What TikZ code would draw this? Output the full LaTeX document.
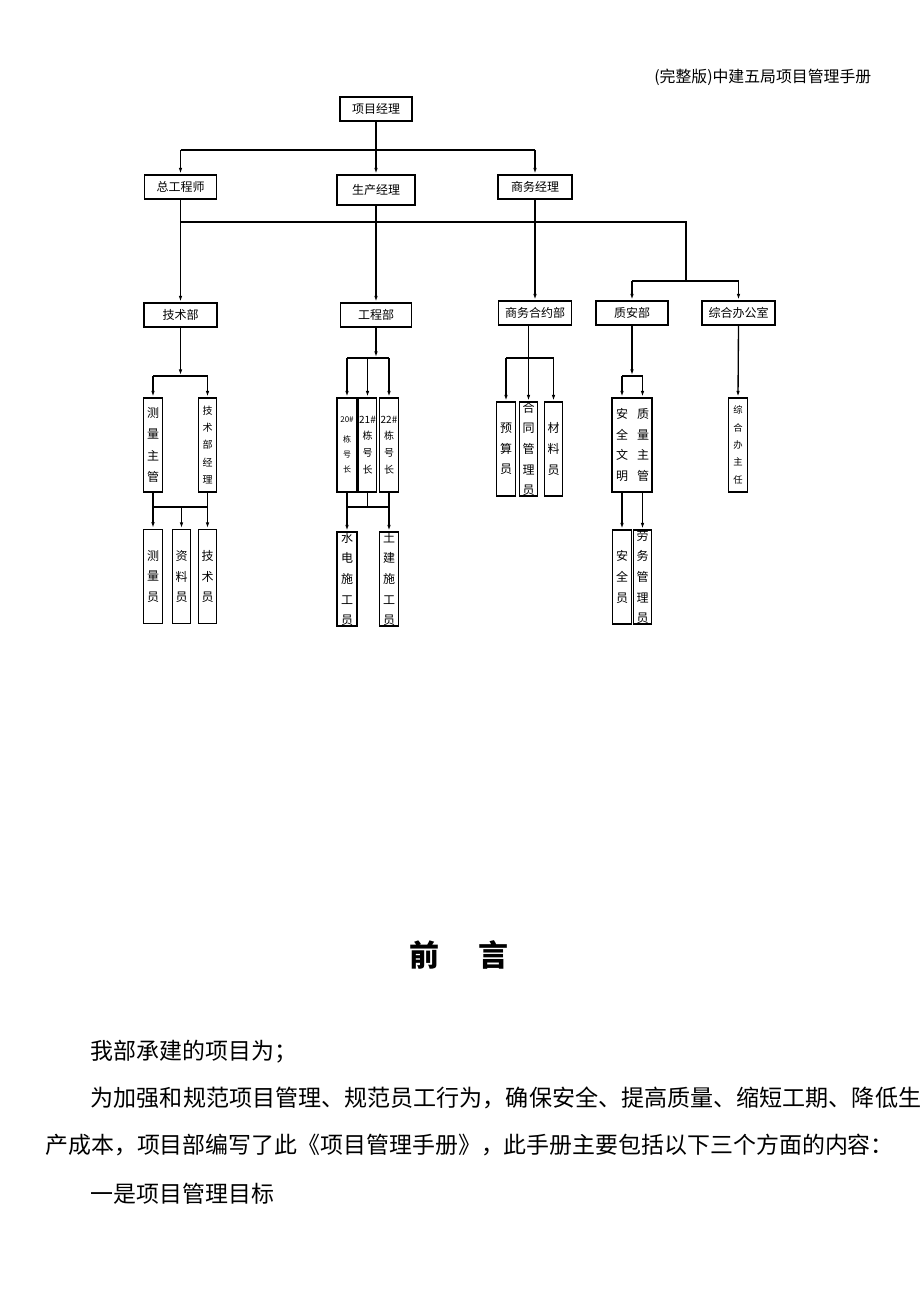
\documentclass[tikz,border=0pt]{standalone}
\usepackage{fontspec}
\setmainfont{Noto Sans CJK SC}
\usetikzlibrary{arrows.meta}

\tikzset{
  orgbox/.style={draw, line width=0.8pt, minimum width=54pt, minimum height=18pt, inner sep=0pt, font=\fontsize{9}{9}\selectfont},
  colbox/.style={draw, line width=0.8pt, minimum width=14pt, minimum height=70.5pt, inner sep=0pt},
  vtext/.style={align=center, inner sep=0pt, font=\fontsize{9}{15.5}\selectfont},
  conn/.style={line width=1pt},
  conarr/.style={conn, -{Latex[length=5pt,width=2.6pt]}},
}

\begin{document}
\begin{tikzpicture}[x=0.75pt,y=0.75pt,yscale=-1,xscale=1]
\useasboundingbox (0,0) rectangle (920,1302);

% header
\node[anchor=east, font=\fontsize{11.9}{11.9}\selectfont] (head) at (876,77) {(完整版)中建五局项目管理手册};

% bars
\coordinate (bar1) at (0,150);
\coordinate (bar2) at (0,222);
\coordinate (bar4) at (0,358);
\coordinate (bar3) at (0,376);
\coordinate (bar5) at (0,507);
\coordinate (bar6) at (686,281);

% top level
\node[orgbox] (pm) at (376,109) {项目经理};
\node[orgbox] (zgcs) at (180.5,187) {总工程师};
\node[orgbox, minimum width=58.5pt, minimum height=22.5pt] (scjl) at (376,190) {生产经理};
\node[orgbox, minimum width=55.5pt] (swjl) at (535,187) {商务经理};

% departments
\node[orgbox, minimum width=54.75pt] (jsb) at (180.5,315) {技术部};
\node[orgbox, minimum width=53.25pt] (gcb) at (376,315) {工程部};
\node[orgbox, minimum width=54.75pt] (swhyb) at (535,313) {商务合约部};
\node[orgbox] (zab) at (632,313) {质安部};
\node[orgbox, minimum width=54.75pt] (zhbgs) at (738.5,313) {综合办公室};

% posts
\node[colbox, label={[vtext, font=\fontsize{9}{16}\selectfont]center:测\\量\\主\\管}] (clzg) at (153,445) {};
\node[colbox, label={[vtext, font=\fontsize{7.5}{13}\selectfont]center:技\\术\\部\\经\\理}] (jsbjl) at (207.5,445) {};
\node[colbox, line width=1.2pt, label={[vtext]center:测\\量\\员}] (cly) at (153,576.5) {};
\node[colbox, label={[vtext]center:资\\料\\员}] (zly) at (181.5,576.5) {};
\node[colbox, label={[vtext]center:技\\术\\员}] (jsy) at (207.5,576.5) {};

\node[colbox, minimum width=15pt, label={[vtext, font=\fontsize{6}{11}\selectfont]center:20\#\\[4pt]栋\\号\\长}] (d20) at (347,445) {};
\node[colbox, label={[vtext, font=\fontsize{7.5}{12.4}\selectfont]center:21\#\\栋\\号\\长}] (d21) at (367.5,445) {};
\node[colbox, label={[vtext, font=\fontsize{7.5}{12.4}\selectfont]center:22\#\\栋\\号\\长}] (d22) at (389,445) {};
\node[colbox, minimum width=15pt, label={[vtext]center:水\\电\\施\\工\\员}] (sdy) at (347,579) {};
\node[colbox, label={[vtext]center:土\\建\\施\\工\\员}] (tjy) at (389,579) {};

\node[colbox, label={[vtext]center:预\\算\\员}] (ysy) at (506,449) {};
\node[colbox, label={[vtext]center:合\\同\\管\\理\\员}] (htgly) at (528.5,449) {};
\node[colbox, label={[vtext]center:材\\料\\员}] (cl) at (553.5,449) {};

\node[colbox, minimum width=30pt, label={[vtext, xshift=-7.5pt]center:安\\全\\文\\明}, label={[vtext, xshift=8.25pt]center:质\\量\\主\\管}] (aqzl) at (632,445) {};
\node[colbox, label={[vtext]center:安\\全\\员}] (aqy) at (622,577) {};
\node[colbox, label={[vtext]center:劳\\务\\管\\理\\员}] (lwgly) at (642.5,577) {};

\node[colbox, label={[vtext, font=\fontsize{7}{13}\selectfont]center:综\\合\\办\\主\\任}] (zhbzr) at (738,445) {};

% top connectors
\draw[conarr] (pm.south) -- (scjl.north);
\draw[conn] (zgcs.north |- bar1) -- (swjl.north |- bar1);
\draw[conarr] (zgcs.north |- bar1) -- (zgcs.north);
\draw[conarr] (swjl.north |- bar1) -- (swjl.north);

% second level
\draw[conarr] (zgcs.south) -- (jsb.north);
\draw[conarr] (scjl.south) -- (gcb.north);
\draw[conarr] (swjl.south) -- (swhyb.north);
\draw[conn] (zgcs.south |- bar2) -| (bar6);
\draw[conn] (zab.north |- bar6) -- (zhbgs.north |- bar6);
\draw[conarr] (zab.north |- bar6) -- (zab.north);
\draw[conarr] (zhbgs.north |- bar6) -- (zhbgs.north);

% jishu
\draw[conarr] (jsb.south) -- (jsb.south |- bar3);
\draw[conn] (clzg.north |- bar3) -- (jsbjl.north |- bar3);
\draw[conarr] (clzg.north |- bar3) -- (clzg.north);
\draw[conarr] (jsbjl.north |- bar3) -- (jsbjl.north);
\draw[conn] (clzg.south) -- (clzg.south |- bar5) -- (jsbjl.south |- bar5) -- (jsbjl.south);
\draw[conarr] (cly.north |- bar5) -- (cly.north);
\draw[conarr] (zly.north |- bar5) -- (zly.north);
\draw[conarr] (jsy.north |- bar5) -- (jsy.north);

% gongcheng
\draw[conarr] (gcb.south) -- (gcb.south |- bar4);
\draw[conn] (d20.north |- bar4) -- (d22.north |- bar4);
\draw[conarr] (d20.north |- bar4) -- (d20.north);
\draw[conarr] (d21.north |- bar4) -- (d21.north);
\draw[conarr] (d22.north |- bar4) -- (d22.north);
\draw[conn] (d20.south) -- (d20.south |- bar5) -- (d22.south |- bar5) -- (d22.south);
\draw[conn] (d21.south) -- (d21.south |- bar5);
\draw[conarr] (sdy.north |- bar5) -- (sdy.north);
\draw[conarr] (tjy.north |- bar5) -- (tjy.north);

% shangwu
\draw[conarr] (swhyb.south -| htgly.north) -- (htgly.north);
\draw[conn] (ysy.north |- bar4) -- (cl.north |- bar4);
\draw[conarr] (ysy.north |- bar4) -- (ysy.north);
\draw[conarr] (cl.north |- bar4) -- (cl.north);

% zhian
\draw[conarr] (zab.south) -- (zab.south |- bar3);
\draw[conn] (aqy.north |- bar3) -- (lwgly.north |- bar3);
\draw[conarr] (aqy.north |- bar3) -- (aqzl.north -| aqy.north);
\draw[conarr] (lwgly.north |- bar3) -- (aqzl.north -| lwgly.north);
\draw[conarr] (aqzl.south -| aqy.north) -- (aqy.north);
\draw[conarr] (aqzl.south -| lwgly.north) -- (lwgly.north);

% zonghe
\draw[conarr] (zhbgs.south) -- (zhbzr.north);

% text below
\node[font=\fontsize{22.5}{22.5}\selectfont\bfseries] (title) at (459,955) {前\hspace{1.33em}言};
\node[anchor=west, inner sep=0pt, font=\fontsize{17.2}{17.2}\selectfont] (p1) at (90.5,1052) {我部承建的项目为；};
\node[anchor=west, inner sep=0pt, font=\fontsize{17.3}{17.3}\selectfont] (p2) at (90.5,1098) {为加强和规范项目管理、规范员工行为，确保安全、提高质量、缩短工期、降低生};
\node[anchor=west, inner sep=0pt, font=\fontsize{17.2}{17.2}\selectfont] (p3) at (45,1145) {产成本，项目部编写了此《项目管理手册》，此手册主要包括以下三个方面的内容：};
\node[anchor=west, inner sep=0pt, font=\fontsize{17.2}{17.2}\selectfont] (p4) at (90.5,1194) {一是项目管理目标};

\end{tikzpicture}
\end{document}
